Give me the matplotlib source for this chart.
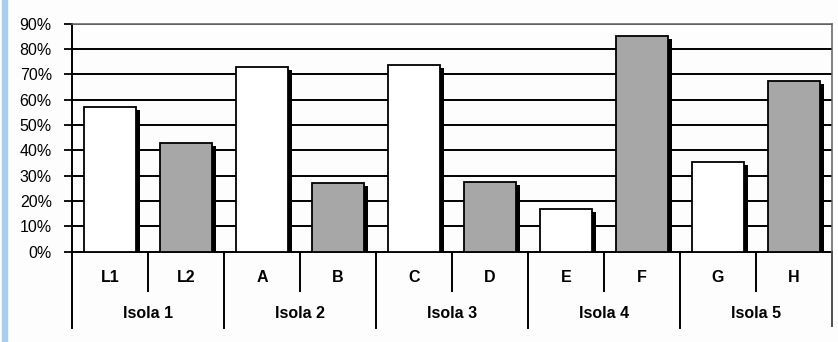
import matplotlib
matplotlib.use("Agg")
import matplotlib.pyplot as plt
from matplotlib.patches import Rectangle
from matplotlib.transforms import ScaledTranslation, blended_transform_factory

categories = ["L1", "L2", "A", "B", "C", "D", "E", "F", "G", "H"]
groups = ["Isola 1", "Isola 2", "Isola 3", "Isola 4", "Isola 5"]
values = [57, 43, 73, 27, 73.5, 27.5, 17, 85, 35.5, 67.5]
bar_colors = ["white", "#a7a7a7"] * 5
yticks = [0, 10, 20, 30, 40, 50, 60, 70, 80, 90]
ytick_labels = [f"{v}%" for v in yticks]

W, H = 838, 342
fig = plt.figure(figsize=(W / 100, H / 100), dpi=100)
fig.patch.set_facecolor("#fdfdfd")
plt.rcParams['font.family'] = ['Liberation Sans', 'DejaVu Sans']

x0, x1 = 72, 832
ybase, ytop = 251.7, 23.5
ax = fig.add_axes([x0 / W, 1 - ybase / H, (x1 - x0) / W, (ybase - ytop) / H])
ax.set_facecolor("#fdfdfd")
ax.set_xlim(0, len(categories))
ax.set_ylim(0, 90)

# gridlines
for v in yticks[1:-1]:
    ax.axhline(v, color="black", lw=1.4, zorder=1)
ax.axhline(90, color="#505050", lw=1.3, zorder=1)

xs = [i + 0.5 for i in range(len(categories))]
bw = 0.69
shadow_tr = ax.transData + ScaledTranslation(4 / 100, -3 / 100, fig.dpi_scale_trans)
ax.bar(xs, values, width=bw, color="black", edgecolor="black", lw=0, zorder=2,
       transform=shadow_tr)
ax.bar(xs, values, width=bw, color=bar_colors, edgecolor="black", lw=1.3, zorder=3)

ax.set_yticks(yticks)
ax.set_yticklabels(ytick_labels, fontsize=11.5)
ax.tick_params(axis="y", direction="out", length=5.5, width=1.3, pad=9, colors="black")
ax.set_xticks([])

for s in ["left", "bottom"]:
    ax.spines[s].set_color("black")
    ax.spines[s].set_linewidth(1.4)
for s in ["top", "right"]:
    ax.spines[s].set_color("#606060")
    ax.spines[s].set_linewidth(1.1)

# category table below axis
tr = blended_transform_factory(ax.transData, ax.transAxes)
hpx = ybase - ytop
def yf(py):
    return -(py - ybase) / hpx

for i in range(len(categories) + 1):
    if i % 2 == 0:
        ybot = 328 if i < len(categories) else 326
        color = "black" if i < len(categories) else "#505050"
    else:
        ybot = 291
        color = "black"
    ax.plot([i, i], [0, yf(ybot)], transform=tr, color=color, lw=1.4, clip_on=False, zorder=5)

for x, c in zip(xs, categories):
    ax.text(x, yf(277), c, transform=tr, ha="center", va="center",
            fontsize=11.5, fontweight="bold")
for g, name in enumerate(groups):
    ax.text(2 * g + 1, yf(313), name, transform=tr, ha="center", va="center",
            fontsize=11.5, fontweight="bold")

# light blue strip at left edge
fig.patches.append(Rectangle((2 / W, 0), 5 / W, 1, transform=fig.transFigure,
                             color="#a9cdee", zorder=0))

fig.savefig("out.png", dpi=100, facecolor=fig.get_facecolor())
